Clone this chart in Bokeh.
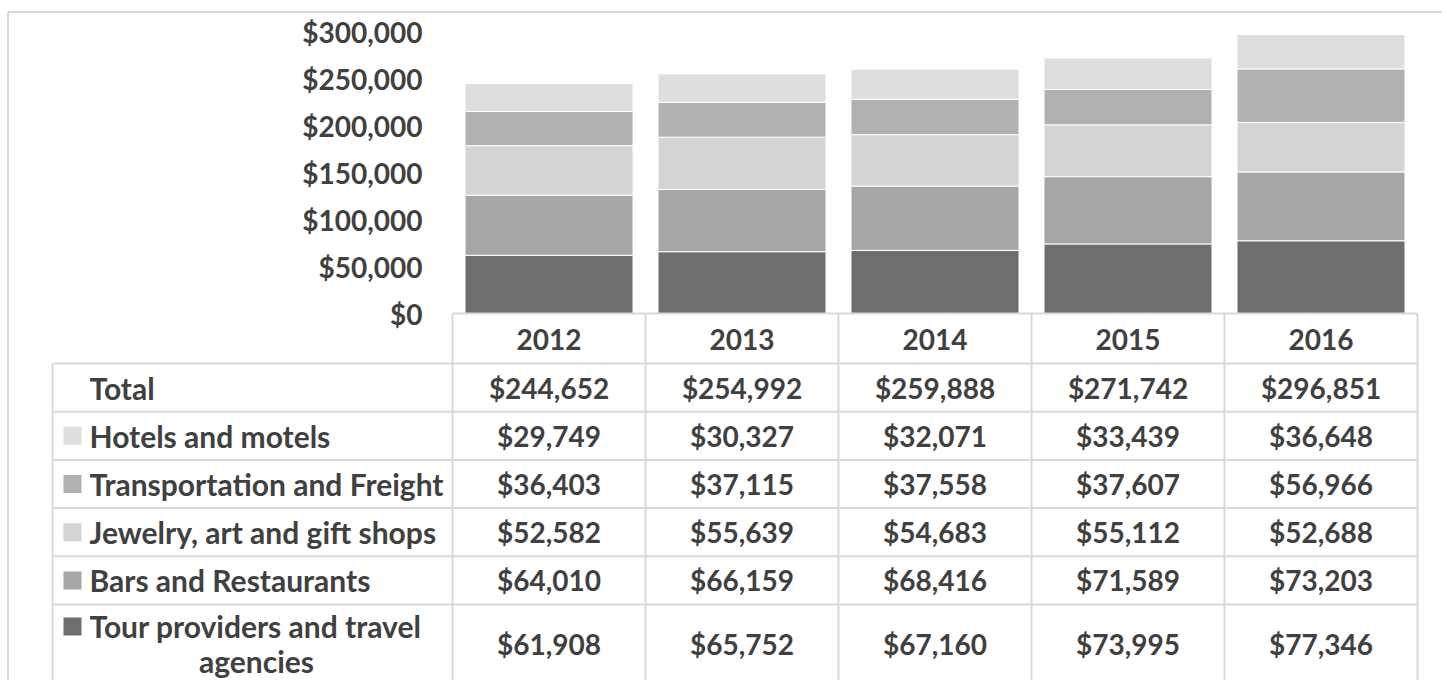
import numpy as np
from bokeh.plotting import figure
from bokeh.models import Range1d, ColumnDataSource
from bokeh.core.properties import value
from bokeh.embed import file_html
from bokeh.resources import INLINE

# ---------------- data ----------------
years = ["2012", "2013", "2014", "2015", "2016"]
tour = [61908, 65752, 67160, 73995, 77346]
bars_rest = [64010, 66159, 68416, 71589, 73203]
jewelry = [52582, 55639, 54683, 55112, 52688]
transport = [36403, 37115, 37558, 37607, 56966]
hotels = [29749, 30327, 32071, 33439, 36648]
total = [244652, 254992, 259888, 271742, 296851]

# stack order (bottom -> top)
series_keys = ["tour", "bars_rest", "jewelry", "transport", "hotels"]
series_names = ["Tour providers and travel agencies", "Bars and Restaurants",
                "Jewelry, art and gift shops", "Transportation and Freight",
                "Hotels and motels"]
series_colors = ["#6e6e6e", "#a6a6a6", "#d4d4d4", "#b1b1b1", "#dedede"]
y_ticks = [0, 50000, 100000, 150000, 200000, 250000, 300000]

# ---------------- geometry (picture pixels) ----------------
W, H = 1442, 680
PAGE_X0, PAGE_Y0 = 0, 0
COL_LEFT, COL_W = 452.0, 193.0
BASE_Y, TOP_Y = 313.0, 31.0
ROW0_Y, ROW_H = 604.0, 48.2
TEXT_COLOR = "#404040"
GRID_COLOR = "#d9d9d9"
FONT = value("Lato")
FS = "28px"
FS_LABEL = "30px"


def cx(px):
    return -0.5 + (px - COL_LEFT) / COL_W


def dy(py):
    return (BASE_Y - py) * 300000 / (BASE_Y - TOP_Y)


def tr(py):
    return (ROW0_Y - py) / ROW_H


p = figure(width=W, height=H,
           x_range=Range1d(cx(PAGE_X0), cx(PAGE_X0 + W)),
           y_range=Range1d(dy(PAGE_Y0 + H), dy(PAGE_Y0)),
           output_backend="svg", toolbar_location=None,
           x_axis_location=None, y_axis_location=None, min_border=0)
p.extra_y_ranges = {"tbl": Range1d(tr(PAGE_Y0 + H), tr(PAGE_Y0))}
p.outline_line_color = None
p.grid.visible = False
p.background_fill_color = "white"
p.border_fill_color = "white"

# ---------------- bars ----------------
xs = list(range(len(years)))
src = ColumnDataSource(dict(x=xs, tour=tour, bars_rest=bars_rest, jewelry=jewelry,
                            transport=transport, hotels=hotels))
p.vbar_stack(series_keys, x="x", width=168 / COL_W, color=series_colors,
             line_color="white", line_width=1, source=src)

# y tick labels
p.text(x=[cx(422)] * len(y_ticks), y=y_ticks, text=[f"${v:,}" for v in y_ticks],
       text_font=FONT, text_font_style="bold", text_font_size=FS,
       text_color=TEXT_COLOR, text_align="right", text_baseline="middle")

# ---------------- table grid ----------------
bottom = tr(700)
top_hdr = tr(BASE_Y)
x_left_tbl = cx(52)
x_right_tbl = cx(COL_LEFT + COL_W * len(years))
seg_x0, seg_y0, seg_x1, seg_y1 = [], [], [], []
# header top
seg_x0.append(cx(COL_LEFT)); seg_x1.append(x_right_tbl); seg_y0.append(top_hdr); seg_y1.append(top_hdr)
# row lines
for r in range(0, 6):
    seg_x0.append(x_left_tbl); seg_x1.append(x_right_tbl); seg_y0.append(r); seg_y1.append(r)
# verticals
seg_x0.append(x_left_tbl); seg_x1.append(x_left_tbl); seg_y0.append(5); seg_y1.append(bottom)
for k in range(len(years) + 1):
    xv = k - 0.5
    seg_x0.append(xv); seg_x1.append(xv); seg_y0.append(top_hdr); seg_y1.append(bottom)
# outer border (no bottom edge visible)
bl, bt, br = cx(7.5), tr(11.5), cx(1447)
seg_x0 += [bl, bl, br]; seg_x1 += [bl, br, br]
seg_y0 += [bt, bt, bt]; seg_y1 += [bottom, bt, bottom]
p.segment(x0=seg_x0, y0=seg_y0, x1=seg_x1, y1=seg_y1, line_color=GRID_COLOR,
          line_width=2, y_range_name="tbl")

# ---------------- table texts ----------------
# header years
p.text(x=xs, y=[tr(339)] * len(years), text=years, text_font=FONT,
       text_font_style="bold", text_font_size=FS, text_color=TEXT_COLOR,
       text_align="center", text_baseline="middle", y_range_name="tbl")

# rows top -> bottom: Total, Hotels, Transport, Jewelry, Bars, Tour
row_values = [total, hotels, transport, jewelry, bars_rest, tour]
row_y = [4.5, 3.5, 2.5, 1.5, 0.5, tr(643)]
vx, vy, vt = [], [], []
for vals, ry in zip(row_values, row_y):
    for i, v in enumerate(vals):
        vx.append(xs[i]); vy.append(ry); vt.append(f"${v:,}")
p.text(x=vx, y=vy, text=vt, text_font=FONT, text_font_style="bold",
       text_font_size=FS, text_color=TEXT_COLOR, text_align="center",
       text_baseline="middle", y_range_name="tbl")

# row labels
label_texts = ["Total", "Hotels and motels", "Transportation and Freight",
               "Jewelry, art and gift shops", "Bars and Restaurants",
               "Tour providers and travel"]
label_y = [4.5, 3.5, 2.5, 1.5, 0.5, tr(625)]
p.text(x=[cx(89)] * len(label_texts), y=label_y, text=label_texts, text_font=FONT,
       text_font_style="bold", text_font_size=FS_LABEL, text_color=TEXT_COLOR,
       text_align="left", text_baseline="middle", y_range_name="tbl")
p.text(x=[cx(256)], y=[tr(660)], text=["agencies"], text_font=FONT,
       text_font_style="bold", text_font_size=FS_LABEL, text_color=TEXT_COLOR,
       text_align="center", text_baseline="middle", y_range_name="tbl")

# legend keys (display order top -> bottom: hotels, transport, jewelry, bars, tour)
key_colors = [series_colors[4], series_colors[3], series_colors[2],
              series_colors[1], series_colors[0]]
key_y = [3.5, 2.5, 1.5, 0.5, tr(626)]
p.scatter(x=[cx(72)] * 5, y=key_y, marker="square", size=18, fill_color=key_colors,
          line_color=None, y_range_name="tbl")

open("out.html", "w").write(file_html(p, INLINE))
